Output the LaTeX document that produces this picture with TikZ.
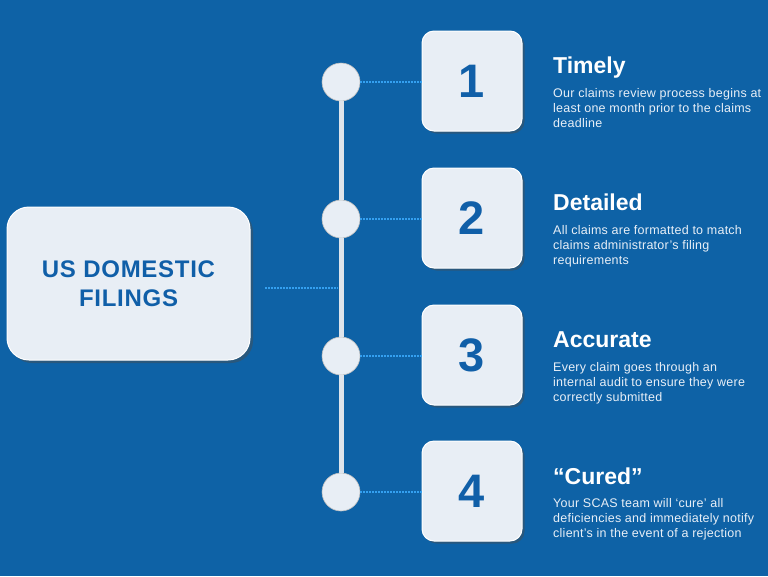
\documentclass[tikz,border=0pt]{standalone}
\usepackage{fontspec}
\setmainfont{Liberation Sans}
\newfontfamily\blurbfont[LetterSpace=2]{Liberation Sans}
\newfontfamily\titlefont[LetterSpace=3]{Liberation Sans}
\usepackage{xcolor}
\usetikzlibrary{shadows}
\definecolor{bgblue}{RGB}{14,98,166}
\definecolor{boxfill}{RGB}{232,238,245}
\definecolor{numblue}{RGB}{16,95,168}
\definecolor{dotblue}{RGB}{52,160,240}
\definecolor{spinegray}{RGB}{222,228,235}
\definecolor{desctext}{RGB}{232,239,247}

\tikzset{
card/.style={rectangle, rounded corners=12pt, minimum size=100pt, fill=boxfill, draw=white, line width=1pt, drop shadow={shadow xshift=2.5pt, shadow yshift=-2.5pt, opacity=0.45, fill=black!70}, text=numblue, font=\fontsize{47}{47}\selectfont\bfseries},
mainbox/.style={rectangle, rounded corners=22pt, minimum width=243pt, minimum height=153pt, fill=boxfill, draw=white, line width=1pt, drop shadow={shadow xshift=3pt, shadow yshift=-3pt, opacity=0.45, fill=black!70}, align=center, text=numblue, font=\titlefont\fontsize{24}{29}\selectfont\bfseries},
knob/.style={circle, minimum size=38pt, inner sep=0pt, fill=boxfill, draw=black!25, line width=0.6pt},
link/.style={dotblue, line width=1.8pt, dash pattern=on 1.8pt off 1.2pt},
spine/.style={spinegray, line width=5pt},
heading/.style={anchor=base west, inner sep=0pt, text=white, font=\fontsize{23}{23}\selectfont\bfseries},
blurb/.style={anchor=north west, inner sep=0pt, align=left, text=desctext, font=\blurbfont\fontsize{12.5}{15}\selectfont}
}

\begin{document}
\begin{tikzpicture}[x=1pt,y=-1pt]
\fill[bgblue] (0,0) rectangle (768,576);
\useasboundingbox (0,0) rectangle (768,576);

\node[mainbox] (main) at (128.5,283.5) {US DOMESTIC\\FILINGS};

\node[knob] (k1) at (341,82) {};
\node[knob] (k2) at (341,219) {};
\node[knob] (k3) at (341,356) {};
\node[knob] (k4) at (341,492) {};
\draw[spine] (k1.south) -- (k2.north);
\draw[spine] (k2.south) -- (k3.north);
\draw[spine] (k3.south) -- (k4.north);

\node[card] (one) at (472,81) {1};
\node[card] (two) at (472,218) {2};
\node[card] (three) at (472,355) {3};
\node[card] (four) at (472,491) {4};

\draw[link] (k1.east) -- (k1.east -| one.west);
\draw[link] (k2.east) -- (k2.east -| two.west);
\draw[link] (k3.east) -- (k3.east -| three.west);
\draw[link] (k4.east) -- (k4.east -| four.west);

\coordinate (hub) at (265,288);
\coordinate (joint) at (338,288);
\draw[link] (hub) -- (joint);

\node[heading] (h1) at (553,73) {Timely};
\node[heading] (h2) at (553,210) {Detailed};
\node[heading] (h3) at (553,347) {Accurate};
\node[heading] (h4) at (553,484) {“Cured”};

\node[blurb] (b1) at (553,88) {Our claims review process begins at\\least one month prior to the claims\\deadline};
\node[blurb] (b2) at (553,225) {All claims are formatted to match\\claims administrator’s filing\\requirements};
\node[blurb] (b3) at (553,362) {Every claim goes through an\\internal audit to ensure they were\\correctly submitted};
\node[blurb] (b4) at (553,498) {Your SCAS team will ‘cure’ all\\deficiencies and immediately notify\\client’s in the event of a rejection};
\end{tikzpicture}
\end{document}
